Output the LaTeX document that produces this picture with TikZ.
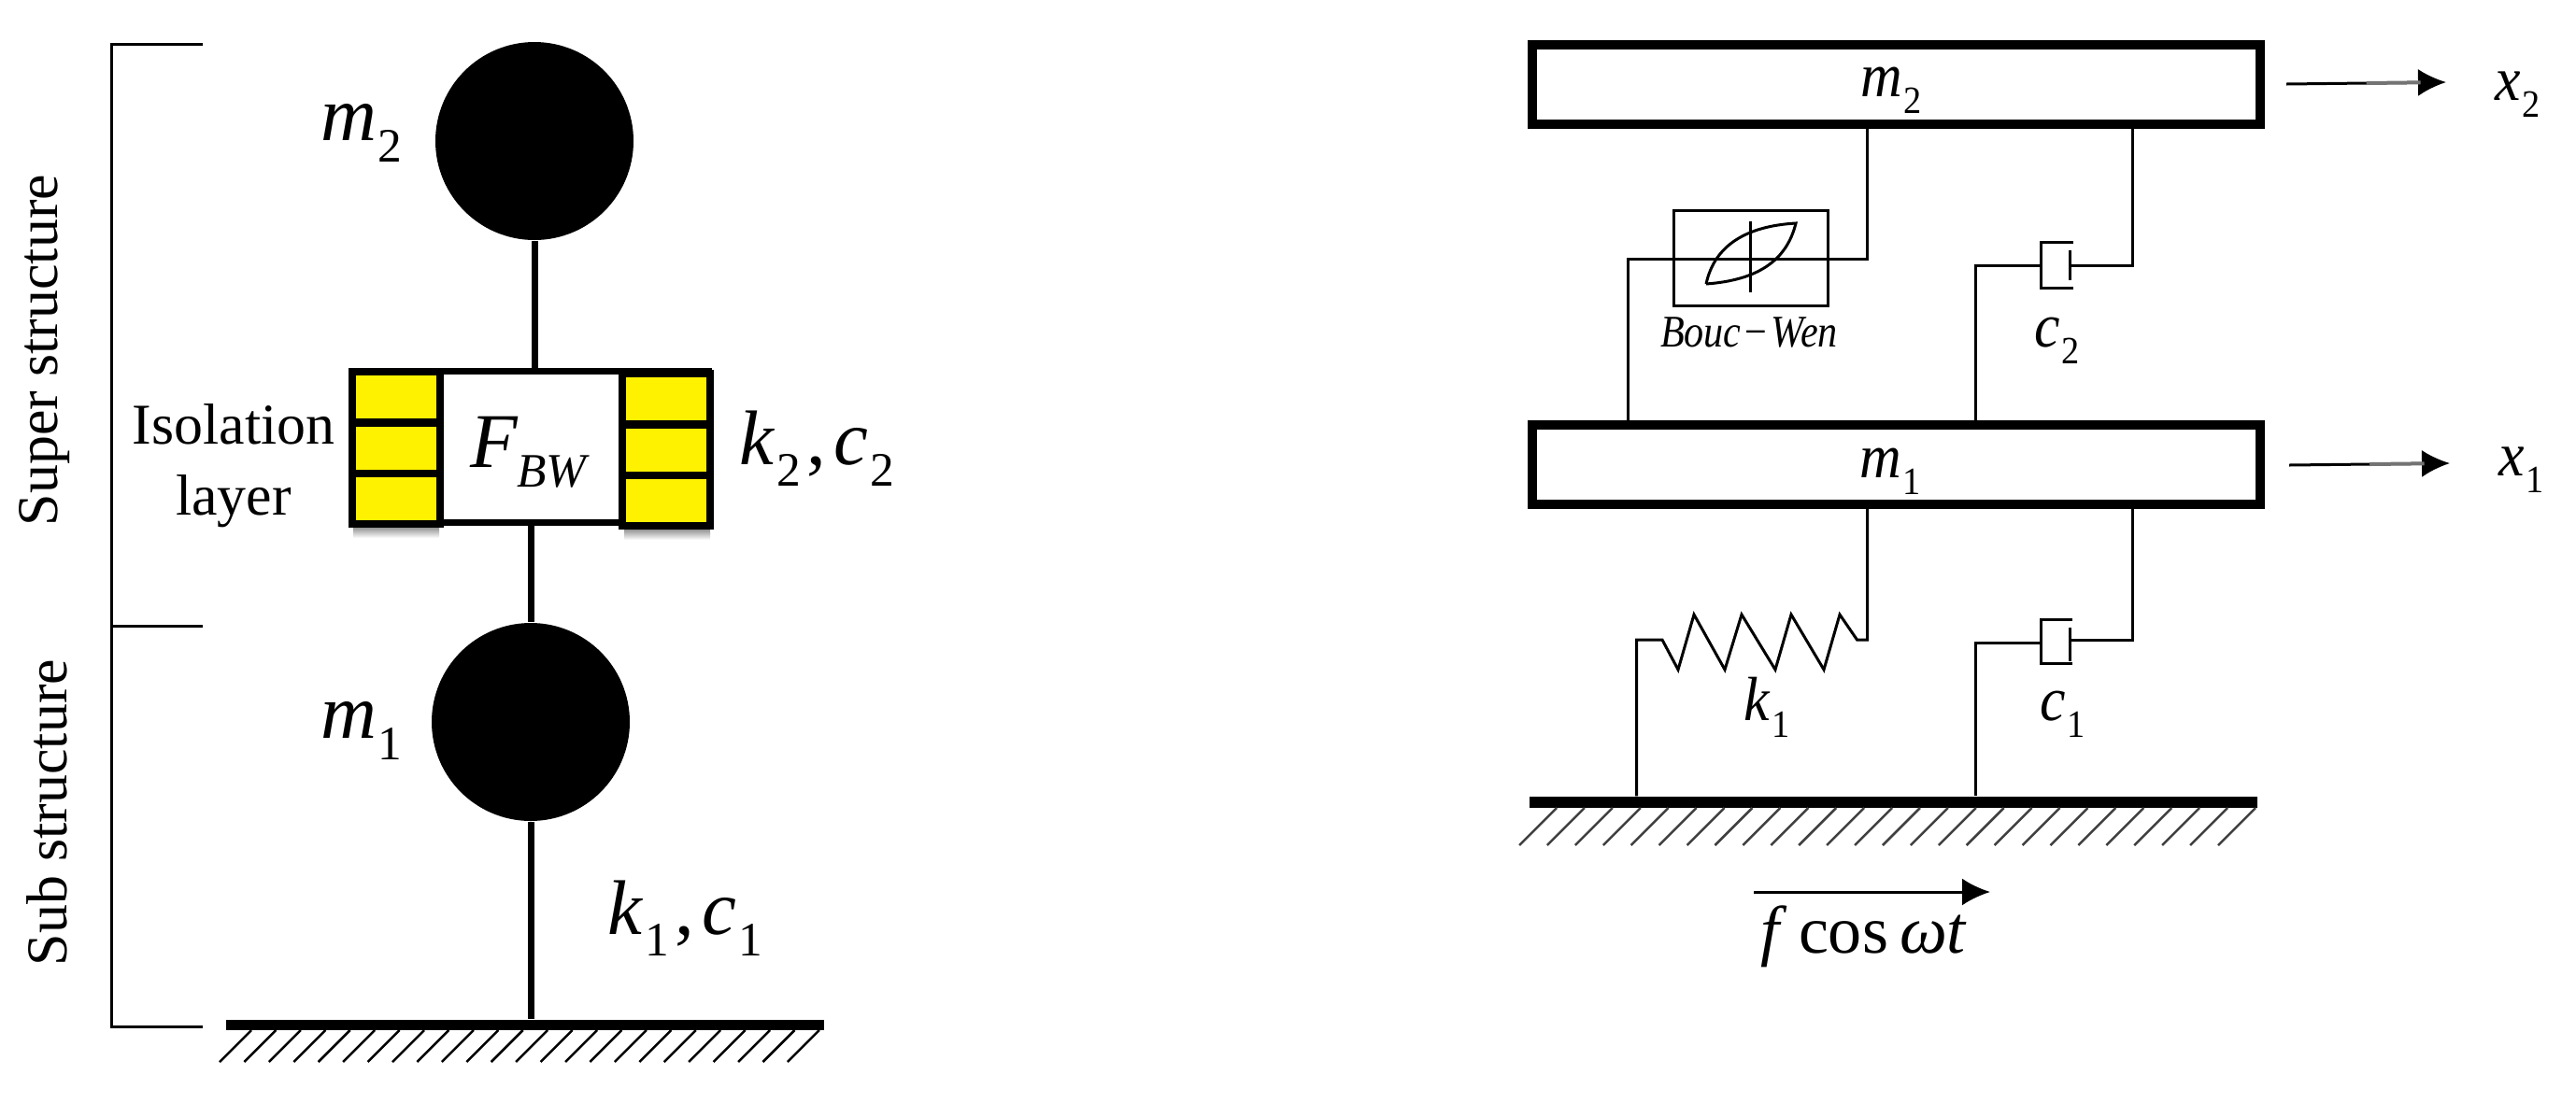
\documentclass[tikz,border=0pt]{standalone}
\usepackage{fontspec}
\setmainfont{Liberation Serif}
\usepackage{tikz}
\usetikzlibrary{calc}
\usetikzlibrary{arrows.meta}
\usetikzlibrary{positioning}
\tikzset{>=latex}
\tikzstyle{ball} = [circle, fill = black, draw = none, inner sep = 0, minimum size = 2.12cm]
\tikzstyle{rod} = [line width = .07cm]
\tikzstyle{bracket} = [line width = .03cm]
\tikzstyle{cell} = [rectangle, draw = black, fill = yellow, line width = .08cm, inner sep = 0, minimum width = .94cm, minimum height = .54cm]
\tikzstyle{massbox} = [rectangle, draw = black, fill = white, line width = .1cm, inner sep = 0, minimum width = 7.79cm, minimum height = .85cm]
\tikzstyle{wire} = [line width = .03cm]
\tikzstyle{hatch} = [line width = .025cm]
\tikzstyle{bigtxt} = [inner sep = 0, font = \fontsize{23.6}{28}\selectfont]
\tikzstyle{plaintxt} = [inner sep = 0, font = \fontsize{17.6}{21}\selectfont]
\tikzstyle{smalltxt} = [inner sep = 0, font = \fontsize{17.6}{21}\selectfont]
\tikzstyle{motion} = [line width = .03cm, -{Latex[length = .3cm, width = .29cm]}]
\newcommand{\sublab}[2]{\textit{#1}\kern.02em\raisebox{-.28em}{\scalebox{.62}{#2}}}
\newcommand{\tallsub}[2]{\scalebox{1}[1.08]{\textit{#1}\kern.02em\raisebox{-.28em}{\scalebox{.62}{#2}}}}

\begin{document}
\begin{tikzpicture}[y = -1cm]
\useasboundingbox (0, 0) rectangle (27.57, 11.8);
% left model
\coordinate (BrT) at (2.17, 0.47);
\coordinate (BrM) at (2.17, 6.70);
\coordinate (BrB) at (2.17, 10.99);
\coordinate (BrX) at (1.19, 0);
\draw [bracket] (BrT) -- (BrX |- BrT) -- (BrX |- BrB) -- (BrB);
\draw [bracket] (BrX |- BrM) -- (BrM);
\node [plaintxt, rotate = 90] (Super) at (0.48, 3.75) {Super structure};
\node [plaintxt, rotate = 90] (Sub) at (0.50, 8.70) {Sub structure};
\shade [top color = black!60, bottom color = white] (3.78, 5.60) rectangle (4.70, 5.76);
\shade [top color = black!60, bottom color = white] (6.68, 5.62) rectangle (7.60, 5.78);
\node [ball] (Ball2) at (5.72, 1.51) {};
\node [ball] (Ball1) at (5.68, 7.73) {};
\node [rectangle, draw = black, fill = white, line width = .07cm, inner sep = 0, minimum width = 3.80cm, minimum height = 1.62cm] (Iso) at (5.685, 4.785) {};
\foreach \rownum/\rowy in {1/4.25, 2/4.80, 3/5.34} {
\node [cell] (CellL\rownum) at (4.24, \rowy) {};
\node [cell] (CellR\rownum) at (7.13, \rowy + .015) {};
}
\node [rectangle, fill = black, inner sep = 0, minimum width = 6.40cm, minimum height = .11cm] (Ground) at (5.62, 10.975) {};
\draw [rod] (Ball2) -- (Ball2 |- Iso.north);
\draw [rod] (Ball1 |- Iso.south) -- (Ball1);
\draw [rod] (Ball1) -- (Ball1 |- Ground.north);
\foreach \i in {0, ..., 23} {
\draw [hatch] ({2.35 + .2643*\i}, 11.37) -- ++(.34, -.34);
}
\node [bigtxt, anchor = base] (LabM2) at (3.87, 1.50) {\sublab{m}{2}};
\node [bigtxt, anchor = base] (LabM1) at (3.87, 7.90) {\sublab{m}{1}};
\node [plaintxt, anchor = base] (IsoA) at (2.50, 4.75) {Isolation};
\node [plaintxt, anchor = base] (IsoB) at (2.50, 5.51) {layer};
\node [bigtxt, anchor = base west] (LabF) at (5.03, 5.00) {\textit{F}\kern-.02em\raisebox{-.26em}{\scalebox{.62}{\textit{BW}}}};
\node [bigtxt, anchor = base west] (LabK2) at (7.91, 4.97) {\sublab{k}{2}\kern.08em,\kern.1em\sublab{c}{2}};
\node [bigtxt, anchor = base west] (LabK1) at (6.50, 10.00) {\sublab{k}{1}\kern.08em,\kern.1em\sublab{c}{1}};
% right model
\node [massbox] (Mass2) at (20.295, 0.905) {};
\node [massbox] (Mass1) at (20.295, 4.975) {};
\node [rectangle, fill = black, inner sep = 0, minimum width = 7.79cm, minimum height = .12cm] (Base) at (20.26, 8.59) {};
\foreach \i in {0, ..., 25} {
\draw [hatch, black!75] ({16.26 + .2992*\i}, 9.05) -- ++(.40, -.40);
}
\coordinate (BWr) at (19.985, 2.77);
\coordinate (BWl) at (17.425, 2.77);
\coordinate (Dr2) at (22.82, 2.84);
\coordinate (Dl2) at (21.145, 2.84);
\coordinate (SprR) at (19.985, 6.85);
\coordinate (SprL) at (17.515, 6.85);
\coordinate (Dr1) at (22.82, 6.85);
\coordinate (Dl1) at (21.145, 6.88);
\node [rectangle, draw = black, line width = .03cm, inner sep = 0, minimum width = 1.65cm, minimum height = 1.02cm] (BW) at (18.735, 2.76) {};
\draw [wire] (Mass2.south -| BWr) -- (BWr) -- (BWl) -- (BWl |- Mass1.north);
\draw [wire] (BW.center |- 0, 2.37) -- (BW.center |- 0, 3.13);
\draw [wire] (18.26, 3.04) .. controls (18.35, 2.62) and (18.70, 2.42) .. (19.22, 2.39) .. controls (19.12, 2.80) and (18.80, 3.00) .. (18.26, 3.04);
\node [smalltxt, anchor = base, font = \fontsize{12}{15}\selectfont] (LabBW) at (18.72, 3.71) {\scalebox{1}[1.15]{\textit{Bouc}\kern.1em−\kern.1em\textit{Wen}}};
% dampers
\draw [wire] (Mass2.south -| Dr2) -- (Dr2) -- (22.15, 2.84);
\draw [wire] (22.15, 2.68) -- (22.15, 3.00);
\draw [wire] (22.19, 2.59) -- (21.84, 2.59) -- (21.84, 3.08) -- (22.19, 3.08);
\draw [wire] (21.84, 2.84) -- (Dl2) -- (Dl2 |- Mass1.north);
\draw [wire] (Mass1.south -| Dr1) -- (Dr1) -- (22.15, 6.85);
\draw [wire] (22.15, 6.72) -- (22.15, 7.08);
\draw [wire] (22.18, 6.63) -- (21.84, 6.63) -- (21.84, 7.10) -- (22.18, 7.10);
\draw [wire] (21.84, 6.88) -- (Dl1) -- (Dl1 |- Base.north);
% spring
\draw [wire] (Mass1.south -| SprR) -- (SprR) -- (19.875, 6.85) -- (19.69, 6.58) -- (19.52, 7.17) -- (19.17, 6.58) -- (19.00, 7.17) -- (18.64, 6.58) -- (18.46, 7.17) -- (18.13, 6.58) -- (17.96, 7.17) -- (17.79, 6.85) -- (SprL) -- (SprL |- Base.north);
% labels
\node [smalltxt, anchor = base] (Lm2) at (20.24, 1.03) {\tallsub{m}{2}};
\node [smalltxt, anchor = base] (Lm1) at (20.23, 5.11) {\tallsub{m}{1}};
\node [smalltxt, anchor = base west] (Lx2) at (26.70, 1.07) {\tallsub{x}{2}};
\node [smalltxt, anchor = base west] (Lx1) at (26.74, 5.09) {\tallsub{x}{1}};
\node [smalltxt, anchor = base west] (Lc2) at (21.77, 3.71) {\tallsub{c}{2}};
\node [smalltxt, anchor = base west] (Lc1) at (21.83, 7.71) {\tallsub{c}{1}};
\node [smalltxt, anchor = base west] (Lk1) at (18.66, 7.71) {\tallsub{k}{1}};
\coordinate (Ar2a) at (24.47, 0.90);
\coordinate (Ar2b) at (26.18, 0.88);
\coordinate (Ar1a) at (24.50, 4.98);
\coordinate (Ar1b) at (26.22, 4.96);
\coordinate (ArFa) at (18.77, 9.55);
\coordinate (ArFb) at (21.30, 9.55);
\draw [motion] (Ar2a) -- (Ar2b);
\draw [motion] (Ar1a) -- (Ar1b);
\draw [motion] (ArFa) -- (ArFb);
\draw [line width = .04cm, black!55] ($(Ar2a)!.5!(Ar2b)$) -- ($(Ar2a)!.84!(Ar2b)$);
\draw [line width = .04cm, black!55] ($(Ar1a)!.5!(Ar1b)$) -- ($(Ar1a)!.84!(Ar1b)$);
\node [inner sep = 0, anchor = base, font = \fontsize{20.5}{24}\selectfont] (LabForce) at (19.95, 10.20) {\textit{f}\,cos\,\textit{ωt}};
\end{tikzpicture}
\end{document}
